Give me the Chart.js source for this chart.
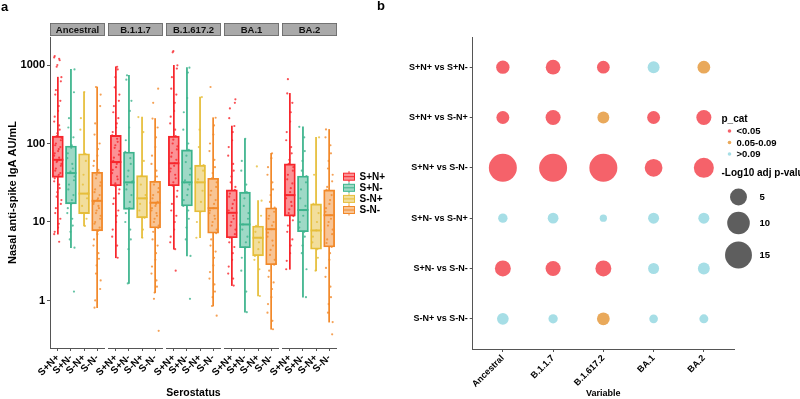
<!DOCTYPE html>
<html>
<head>
<meta charset="utf-8">
<script src="https://cdn.jsdelivr.net/npm/chart.js@4.4.1/dist/chart.umd.min.js"></script>
<style>
  body { margin: 0; background: #fff; width: 800px; height: 399px; position: relative; overflow: hidden; font-family: "Liberation Sans", Arial, sans-serif; }
  canvas { position: absolute; top: 0; }
  #chartA { left: 0; }
  #chartB { left: 400px; }
  .tag { position: absolute; font-weight: bold; font-size: 13px; line-height: 15px; }
</style>
</head>
<body>
<canvas id="chartA" width="400" height="399"></canvas>
<canvas id="chartB" width="400" height="399"></canvas>
<div class="tag" style="left:1px;top:-1px">a</div>
<div class="tag" style="left:377px;top:-2px">b</div>
<script>
// ---- panel a data ----
const variants = ['Ancestral', 'B.1.1.7', 'B.1.617.2', 'BA.1', 'BA.2'];
const serostatus = ['S+N+', 'S+N-', 'S-N+', 'S-N-'];
const yTicks = [1, 10, 100, 1000];

// box stats, rows = variant, cols = serostatus
const whiskerLow = [
    [7.0, 4.7, 8.9, 0.81],
    [3.5, 1.65, 6.3, 1.26],
    [4.5, 3.7, 6.3, 0.85],
    [1.55, 0.71, 1.14, 0.43],
    [2.5, 1.1, 2.4, 0.53]
];
const q1 = [
    [37, 17, 12.8, 7.7],
    [29, 14.5, 11.3, 8.4],
    [29, 16, 13.4, 7.2],
    [6.3, 4.7, 3.7, 2.86],
    [11.9, 7.5, 4.5, 4.8]
];
const median = [
    [62, 42, 23, 18.6],
    [58, 32, 20, 17.6],
    [56, 32, 32, 15],
    [13.1, 9.3, 6.3, 8.1],
    [22, 14.2, 7.8, 12.2]
];
const q3 = [
    [124, 93, 74, 43],
    [127, 78, 39, 33],
    [124, 83, 53, 36],
    [25.6, 24, 8.9, 15.2],
    [55, 38.5, 17, 25.6]
];
const whiskerHigh = [
    [700, 880, 453, 525],
    [950, 740, 217, 208],
    [990, 925, 390, 213],
    [167, 115, 18.7, 75],
    [435, 163, 120, 151]
];

// individual samples
const ptsAncestral = [
    [1300, 1250, 1200, 1150, 1000, 950, 700, 620, 480, 420, 350, 300, 260, 220, 190, 170, 150, 135, 124, 118, 110, 100, 95, 90, 85, 80, 75, 70, 66, 62, 60, 58, 55, 52, 48, 45, 42, 40, 38, 36, 33, 30, 27, 24, 21, 19, 17, 15, 13, 11, 9.5, 8.5, 7.5, 7, 5.6],
    [880, 450, 210, 160, 120, 95, 88, 75, 65, 55, 48, 44, 42, 38, 34, 30, 26, 22, 19, 17, 15, 13, 11, 9, 7.5, 6, 4.7, 1.3],
    [453, 210, 150, 74, 60, 40, 30, 23, 20, 16, 13, 11, 8.9],
    [525, 420, 300, 180, 130, 100, 85, 70, 60, 52, 46, 43, 40, 36, 32, 29, 26, 24, 22, 20, 19, 18, 17, 16, 15, 14, 13, 12, 11, 10, 9.5, 8.5, 7.7, 7, 6, 5, 4, 3.4, 2.8, 2.2, 1.8, 1.4, 1, 0.81]
];
const ptsB117 = [
    [950, 880, 700, 520, 420, 350, 300, 250, 210, 180, 160, 140, 127, 115, 105, 95, 88, 80, 72, 66, 60, 58, 55, 50, 46, 42, 38, 35, 31, 29, 26, 23, 20, 17, 14, 12, 10, 8, 6.5, 5, 3.5],
    [740, 650, 350, 260, 160, 110, 78, 65, 55, 45, 38, 33, 32, 30, 26, 22, 18, 15, 13, 10, 8, 6, 4.5, 1.65],
    [217, 140, 60, 39, 30, 22, 20, 17, 14, 11.3, 8, 6.3],
    [500, 330, 208, 160, 120, 90, 70, 55, 45, 38, 33, 30, 27, 24, 22, 20, 18, 17, 16, 15, 14, 13, 12, 11, 10, 9, 8.4, 7.5, 6, 5, 4, 3.3, 2.7, 2.2, 1.8, 1.5, 1.26, 1.05, 0.41]
];
const ptsB16172 = [
    [1500, 1450, 990, 900, 700, 500, 420, 330, 260, 220, 180, 150, 124, 112, 100, 92, 84, 76, 68, 62, 56, 52, 48, 44, 40, 36, 32, 29, 25, 21, 17, 14, 12, 10, 8, 6.5, 5.5, 4.5, 2.4],
    [925, 800, 380, 250, 150, 100, 83, 70, 58, 48, 40, 34, 32, 30, 26, 22, 19, 16, 14, 11, 8.5, 6, 3.7, 1.05],
    [390, 150, 90, 53, 45, 35, 32, 25, 18, 13.4, 10, 6.3],
    [525, 213, 170, 130, 100, 80, 62, 50, 42, 36, 32, 28, 25, 22, 19, 17, 15, 14, 13, 12, 11, 10, 9, 8, 7.2, 6, 5, 4.2, 3.5, 2.8, 2.3, 1.9, 1.6, 1.3, 1.1, 0.85, 0.64]
];
const ptsBA1 = [
    [365, 330, 280, 210, 167, 140, 110, 90, 70, 55, 45, 38, 32, 28, 25.6, 23, 21, 19, 17, 15, 14, 13, 12, 11, 10, 9, 8, 7, 6.3, 5.5, 4.8, 4, 3.3, 2.7, 2.2, 1.9, 1.55],
    [115, 60, 45, 30, 24, 20, 16, 13, 11, 9.3, 8, 6.5, 5.5, 4.7, 3.5, 2.4, 1.3, 0.71],
    [51, 18.7, 12, 8.9, 7.5, 6.3, 5.5, 4.5, 3.7, 3.3, 2.5, 1.14],
    [75, 65, 50, 40, 32, 26, 22, 18, 15.2, 13.5, 12, 11, 10, 9, 8.1, 7.3, 6.5, 5.8, 5, 4.4, 3.8, 3.3, 2.86, 2.4, 2, 1.7, 1.4, 1.1, 0.9, 0.7, 0.55, 0.43]
];
const ptsBA2 = [
    [660, 435, 330, 250, 190, 140, 110, 90, 75, 62, 55, 50, 45, 40, 35, 31, 27, 24, 22, 20, 18, 16, 14.5, 13, 11.9, 10.5, 9, 7.5, 6, 5, 4, 3.2, 2.5],
    [163, 120, 80, 60, 45, 38.5, 32, 26, 20, 16, 14.2, 12, 10, 8.5, 7.5, 6.5, 5, 4, 2.5, 1.1],
    [120, 40, 17, 13, 10, 7.8, 6.5, 5.5, 4.5, 3.5, 2.4],
    [151, 120, 95, 75, 60, 48, 40, 33, 28, 25.6, 22, 19, 17, 15, 13.5, 12.2, 11, 10, 9, 8, 7, 6, 5.4, 4.8, 4, 3.3, 2.6, 2, 1.5, 1.1, 0.9, 0.7, 0.53, 0.37]
];
const allPts = [ptsAncestral, ptsB117, ptsB16172, ptsBA1, ptsBA2];

// ---- panel b data ----
const comparisons = ['S+N+ vs S+N-', 'S+N+ vs S-N+', 'S+N+ vs S-N-', 'S+N- vs S-N+', 'S+N- vs S-N-', 'S-N+ vs S-N-'];
// -log10 adjusted p, rows = comparison, cols = variant
const negLog10P = [
    [2.7, 3.5, 2.4, 2.0, 2.4],
    [2.5, 3.7, 2.0, 2.5, 3.7],
    [16.4, 16.4, 16.4, 5.6, 7.5],
    [1.0, 1.5, 0.43, 1.6, 1.6],
    [4.3, 3.7, 4.3, 1.6, 2.0],
    [1.9, 0.97, 2.4, 0.78, 0.87]
];
// p category index: 0 = <0.05, 1 = 0.05-0.09, 2 = >0.09
const pCat = [
    [0, 0, 0, 2, 1],
    [0, 0, 1, 0, 0],
    [0, 0, 0, 0, 0],
    [2, 2, 2, 2, 2],
    [0, 0, 0, 2, 2],
    [2, 2, 1, 2, 2]
];
const pCatLabels = ['<0.05', '0.05-0.09', '>0.09'];
const sizeBreaks = [5, 10, 15];

// ---- styling ----
Chart.defaults.font.family = '"Liberation Sans", Arial, sans-serif';
Chart.defaults.color = '#000';
Chart.defaults.animation = false;

const groupColors = ['#F7262C', '#3DB48D', '#E6BE3A', '#F2892A'];
const groupFills = ['rgba(247,38,44,0.5)', 'rgba(61,180,141,0.5)', 'rgba(230,190,58,0.5)', 'rgba(242,137,42,0.5)'];
const groupDots = ['rgba(247,38,44,0.8)', 'rgba(61,180,141,0.8)', 'rgba(230,190,58,0.8)', 'rgba(242,137,42,0.8)'];
const pCatColors = ['#F5626A', '#E9A95B', '#A6DEE6'];
const axisColor = '#555';

const FACET_STEP = 4.43;
const X_MIN = 0.4;
const X_MAX = (variants.length - 1) * FACET_STEP + 4.6;
const xPos = (f, g) => f * FACET_STEP + g + 1;
// fixed jitter pattern (fraction of a slot), no randomness
const JIT = [-0.24, 0.1, -0.04, 0.27, -0.15, 0.19, 0.02, -0.28, 0.14, -0.09, 0.23, -0.2, 0.07];

const datasetsA = [];
serostatus.forEach((s, g) => {
    const whiskers = [], boxes = [], meds = [], pts = [];
    variants.forEach((v, f) => {
        const x = xPos(f, g);
        whiskers.push({ x, y: [whiskerLow[f][g], q1[f][g]] }, { x, y: [q3[f][g], whiskerHigh[f][g]] });
        boxes.push({ x, y: [q1[f][g], q3[f][g]] });
        meds.push({ x, y: median[f][g] });
        allPts[f][g].forEach((val, i) => {
            pts.push({ x: x + JIT[(i * 7 + g * 3 + f) % JIT.length], y: val });
        });
    });
    datasetsA.push({ type: 'bar', label: s + ' whisker', data: whiskers, backgroundColor: groupColors[g],
        barThickness: 1.1, grouped: false, order: 4 });
    datasetsA.push({ type: 'bar', label: s, data: boxes, backgroundColor: groupFills[g], borderColor: groupColors[g],
        borderWidth: 1.2, borderSkipped: false, barThickness: 11, grouped: false, order: 3 });
    datasetsA.push({ type: 'scatter', label: s + ' median', data: meds, pointStyle: 'line', pointRadius: 5.5,
        pointBorderColor: groupColors[g], pointBorderWidth: 2, order: 2 });
    datasetsA.push({ type: 'scatter', label: s + ' points', data: pts, pointRadius: 1.1,
        pointBackgroundColor: groupDots[g], backgroundColor: groupDots[g], pointBorderWidth: 0, order: 1 });
});

const xTicksA = [];
variants.forEach((v, f) => serostatus.forEach((s, g) => xTicksA.push(xPos(f, g))));

// facet strips + broken bottom axis
const facetStrips = {
    id: 'facetStrips',
    afterDraw(chart) {
        const { ctx, chartArea } = chart;
        const x = chart.scales.x;
        ctx.save();
        variants.forEach((v, f) => {
            const x0 = x.getPixelForValue(f * FACET_STEP + 0.4);
            const x1 = x.getPixelForValue(f * FACET_STEP + 4.6);
            ctx.fillStyle = '#A9A9A9';
            ctx.fillRect(x0, 23, x1 - x0, 13);
            ctx.strokeStyle = '#666';
            ctx.lineWidth = 0.8;
            ctx.strokeRect(x0 + 0.4, 23.4, x1 - x0 - 0.8, 12.2);
            ctx.fillStyle = '#111';
            ctx.font = 'bold 9.5px "Liberation Sans", Arial, sans-serif';
            ctx.textAlign = 'center';
            ctx.textBaseline = 'middle';
            ctx.fillText(v, (x0 + x1) / 2, 30);
            ctx.strokeStyle = axisColor;
            ctx.lineWidth = 1;
            ctx.beginPath();
            ctx.moveTo(x0, chartArea.bottom + 0.5);
            ctx.lineTo(x1, chartArea.bottom + 0.5);
            ctx.stroke();
        });
        ctx.restore();
    }
};

const boxLegend = {
    id: 'boxLegend',
    afterDraw(chart) {
        const ctx = chart.ctx;
        ctx.save();
        serostatus.forEach((s, i) => {
            const y = 176.7 + i * 11.1;
            ctx.strokeStyle = groupColors[i];
            ctx.lineWidth = 1;
            ctx.beginPath();
            ctx.moveTo(349, y - 5.5); ctx.lineTo(349, y - 3.5);
            ctx.moveTo(349, y + 3.5); ctx.lineTo(349, y + 5.5);
            ctx.stroke();
            ctx.fillStyle = groupFills[i];
            ctx.fillRect(343.5, y - 3.5, 11, 7);
            ctx.strokeRect(343.5, y - 3.5, 11, 7);
            ctx.beginPath();
            ctx.moveTo(343.5, y); ctx.lineTo(354.5, y);
            ctx.stroke();
            ctx.fillStyle = '#000';
            ctx.font = 'bold 10px "Liberation Sans", Arial, sans-serif';
            ctx.textAlign = 'left';
            ctx.textBaseline = 'middle';
            ctx.fillText(s, 359.5, y + 0.5);
        });
        ctx.restore();
    }
};

new Chart(document.getElementById('chartA'), {
    type: 'bar',
    data: { datasets: datasetsA },
    plugins: [facetStrips, boxLegend],
    options: {
        responsive: false,
        layout: { padding: { top: 37, right: 63, left: 0, bottom: 0 }, autoPadding: false },
        plugins: { legend: { display: false }, tooltip: { enabled: false } },
        scales: {
            x: {
                type: 'linear', min: X_MIN, max: X_MAX, offset: false, bounds: 'data',
                afterBuildTicks: sc => { sc.ticks = xTicksA.map(v => ({ value: v })); },
                afterFit: sc => { sc.height = 51; },
                ticks: { autoSkip: false, minRotation: 45, maxRotation: 45, padding: 1,
                    font: { size: 10, weight: 'bold' }, callback: (v, i) => serostatus[i % 4] },
                grid: { drawOnChartArea: false, tickLength: 3, color: axisColor, offset: false },
                border: { display: false },
                title: { display: true, text: 'Serostatus', font: { size: 10.5, weight: 'bold' }, padding: { top: 0, bottom: 0 } }
            },
            y: {
                type: 'logarithmic', min: 0.248, max: 2275, bounds: 'data',
                afterBuildTicks: sc => { sc.ticks = yTicks.map(v => ({ value: v })); },
                afterFit: sc => { sc.width = 50; },
                ticks: { font: { size: 11, weight: 'bold' }, padding: 2, callback: v => String(v) },
                grid: { drawOnChartArea: false, tickLength: 3, color: axisColor },
                border: { display: true, color: axisColor, width: 1 },
                title: { display: true, text: 'Nasal anti-spike IgA AU/mL', font: { size: 11, weight: 'bold' }, padding: { top: 6.5, bottom: 0 } }
            }
        }
    }
});

// ---- panel b ----
const bubbleDiameter = v => 3.3 + 6.1 * Math.sqrt(v);

const datasetsB = pCatLabels.map((lab, k) => {
    const data = [];
    comparisons.forEach((c, r) => variants.forEach((v, col) => {
        if (pCat[r][col] === k) data.push({ x: col + 1, y: r + 1, r: bubbleDiameter(negLog10P[r][col]) / 2 });
    }));
    return { label: lab, data, backgroundColor: pCatColors[k], borderWidth: 0, hoverRadius: 0 };
});

const bubbleLegend = {
    id: 'bubbleLegend',
    afterDraw(chart) {
        const ctx = chart.ctx;
        ctx.save();
        ctx.textAlign = 'left';
        ctx.textBaseline = 'middle';
        ctx.fillStyle = '#000';
        ctx.font = 'bold 10px "Liberation Sans", Arial, sans-serif';
        ctx.fillText('p_cat', 321.5, 119);
        const catY = [131, 142.5, 154];
        pCatLabels.forEach((lab, k) => {
            ctx.fillStyle = pCatColors[k];
            ctx.beginPath();
            ctx.arc(329.5, catY[k], 1.8, 0, Math.PI * 2);
            ctx.fill();
            ctx.fillStyle = '#000';
            ctx.font = 'bold 9.5px "Liberation Sans", Arial, sans-serif';
            ctx.fillText(lab, 336.5, catY[k] + 0.5);
        });
        ctx.font = 'bold 10px "Liberation Sans", Arial, sans-serif';
        ctx.fillText('-Log10 adj p-value', 321.5, 173);
        const sizeY = [197, 223, 255];
        sizeBreaks.forEach((b, k) => {
            ctx.fillStyle = '#5E5E5E';
            ctx.beginPath();
            ctx.arc(338.5, sizeY[k], bubbleDiameter(b) / 2, 0, Math.PI * 2);
            ctx.fill();
            ctx.fillStyle = '#000';
            ctx.font = 'bold 9.5px "Liberation Sans", Arial, sans-serif';
            ctx.fillText(String(b), 359.5, sizeY[k] + 0.5);
        });
        ctx.restore();
    }
};

new Chart(document.getElementById('chartB'), {
    type: 'bubble',
    data: { datasets: datasetsB },
    plugins: [bubbleLegend],
    options: {
        responsive: false,
        layout: { padding: { top: 37, right: 66, left: 0, bottom: 0 }, autoPadding: false },
        plugins: { legend: { display: false }, tooltip: { enabled: false } },
        scales: {
            x: {
                type: 'linear', min: 0.4, max: 5.6, bounds: 'data',
                afterBuildTicks: sc => { sc.ticks = variants.map((v, i) => ({ value: i + 1 })); },
                afterFit: sc => { sc.height = 50; },
                ticks: { autoSkip: false, minRotation: 45, maxRotation: 45, padding: 1,
                    font: { size: 9, weight: 'bold' }, callback: v => variants[v - 1] },
                grid: { drawOnChartArea: false, tickLength: 3, color: axisColor },
                border: { display: true, color: axisColor, width: 1 },
                title: { display: true, text: 'Variable', font: { size: 9, weight: 'bold' }, padding: { top: 0, bottom: 0 } }
            },
            y: {
                type: 'linear', min: 0.4, max: 6.6, reverse: true, bounds: 'data',
                afterBuildTicks: sc => { sc.ticks = comparisons.map((c, i) => ({ value: i + 1 })); },
                afterFit: sc => { sc.width = 72.7; },
                ticks: { font: { size: 9, weight: 'bold' }, padding: 2, callback: v => comparisons[v - 1] },
                grid: { drawOnChartArea: false, tickLength: 3, color: axisColor },
                border: { display: true, color: axisColor, width: 1 }
            }
        }
    }
});
</script>
</body>
</html>
